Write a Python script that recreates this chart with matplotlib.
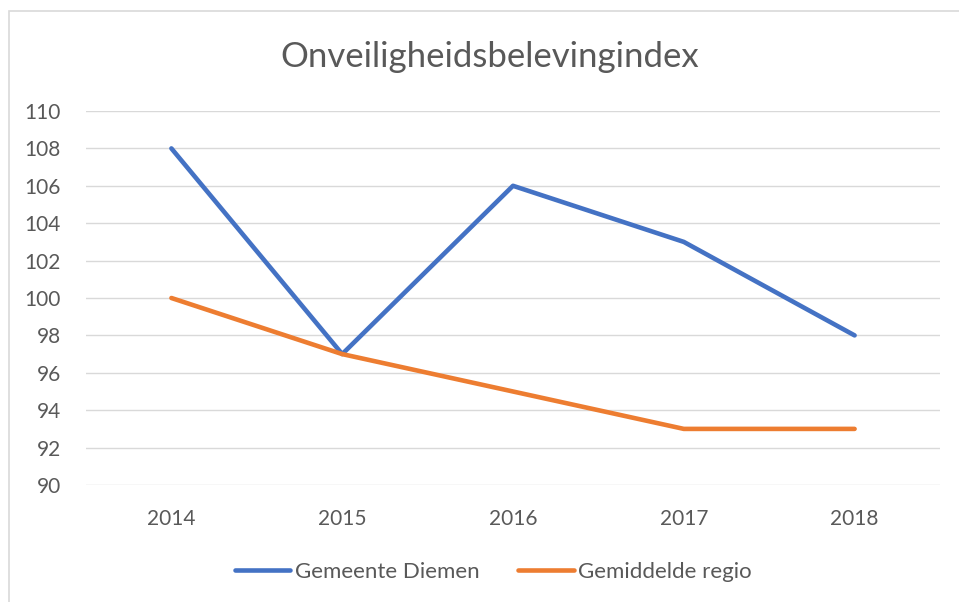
import matplotlib.pyplot as plt
from matplotlib.patches import Rectangle

jaren = ['2014', '2015', '2016', '2017', '2018']
diemen = [108, 97, 106, 103, 98]
regio = [100, 97, 95, 93, 93]
y_ticks = list(range(90, 111, 2))

plt.rcParams['font.family'] = ['Lato', 'DejaVu Sans']

fig = plt.figure(figsize=(9.59, 6.02), dpi=100)
ax = fig.add_axes([86 / 959, 1 - 485 / 602, 854 / 959, 374 / 602])

# chart border (only left/top visible in the crop)
fig.patches.append(Rectangle((9 / 959, -0.5), 2, 0.5 + (1 - 11 / 602), transform=fig.transFigure,
                             fill=False, edgecolor='#d9d9d9', linewidth=1.2))

x = range(len(jaren))
ax.plot(x, diemen, color='#4472C4', linewidth=3.3, solid_capstyle='round', label='Gemeente Diemen')
ax.plot(x, regio, color='#ED7D31', linewidth=3.3, solid_capstyle='round', label='Gemiddelde regio')

ax.set_xlim(-0.5, len(jaren) - 0.5)
ax.set_ylim(90, 110)
ax.set_yticks(y_ticks)
ax.set_xticks(list(x))
ax.set_xticklabels(jaren)
ax.grid(axis='y', color='#d9d9d9', linewidth=1)
ax.set_axisbelow(True)
for s in ax.spines.values():
    s.set_visible(False)
ax.tick_params(length=0, labelsize=15, labelcolor='#595959')
ax.tick_params(axis='x', pad=17)
ax.tick_params(axis='y', pad=18)

fig.text(490 / 959, 1 - 57 / 602, 'Onveiligheidsbelevingindex', ha='center', va='center',
         fontsize=25, color='#595959')

leg = ax.legend(loc='center', bbox_to_anchor=(0.477, -0.232), ncol=2, frameon=False,
                fontsize=16, handlelength=2.5, handletextpad=0.2, columnspacing=1.75)
for t in leg.get_texts():
    t.set_color('#595959')

fig.savefig('out.png', dpi=100)
